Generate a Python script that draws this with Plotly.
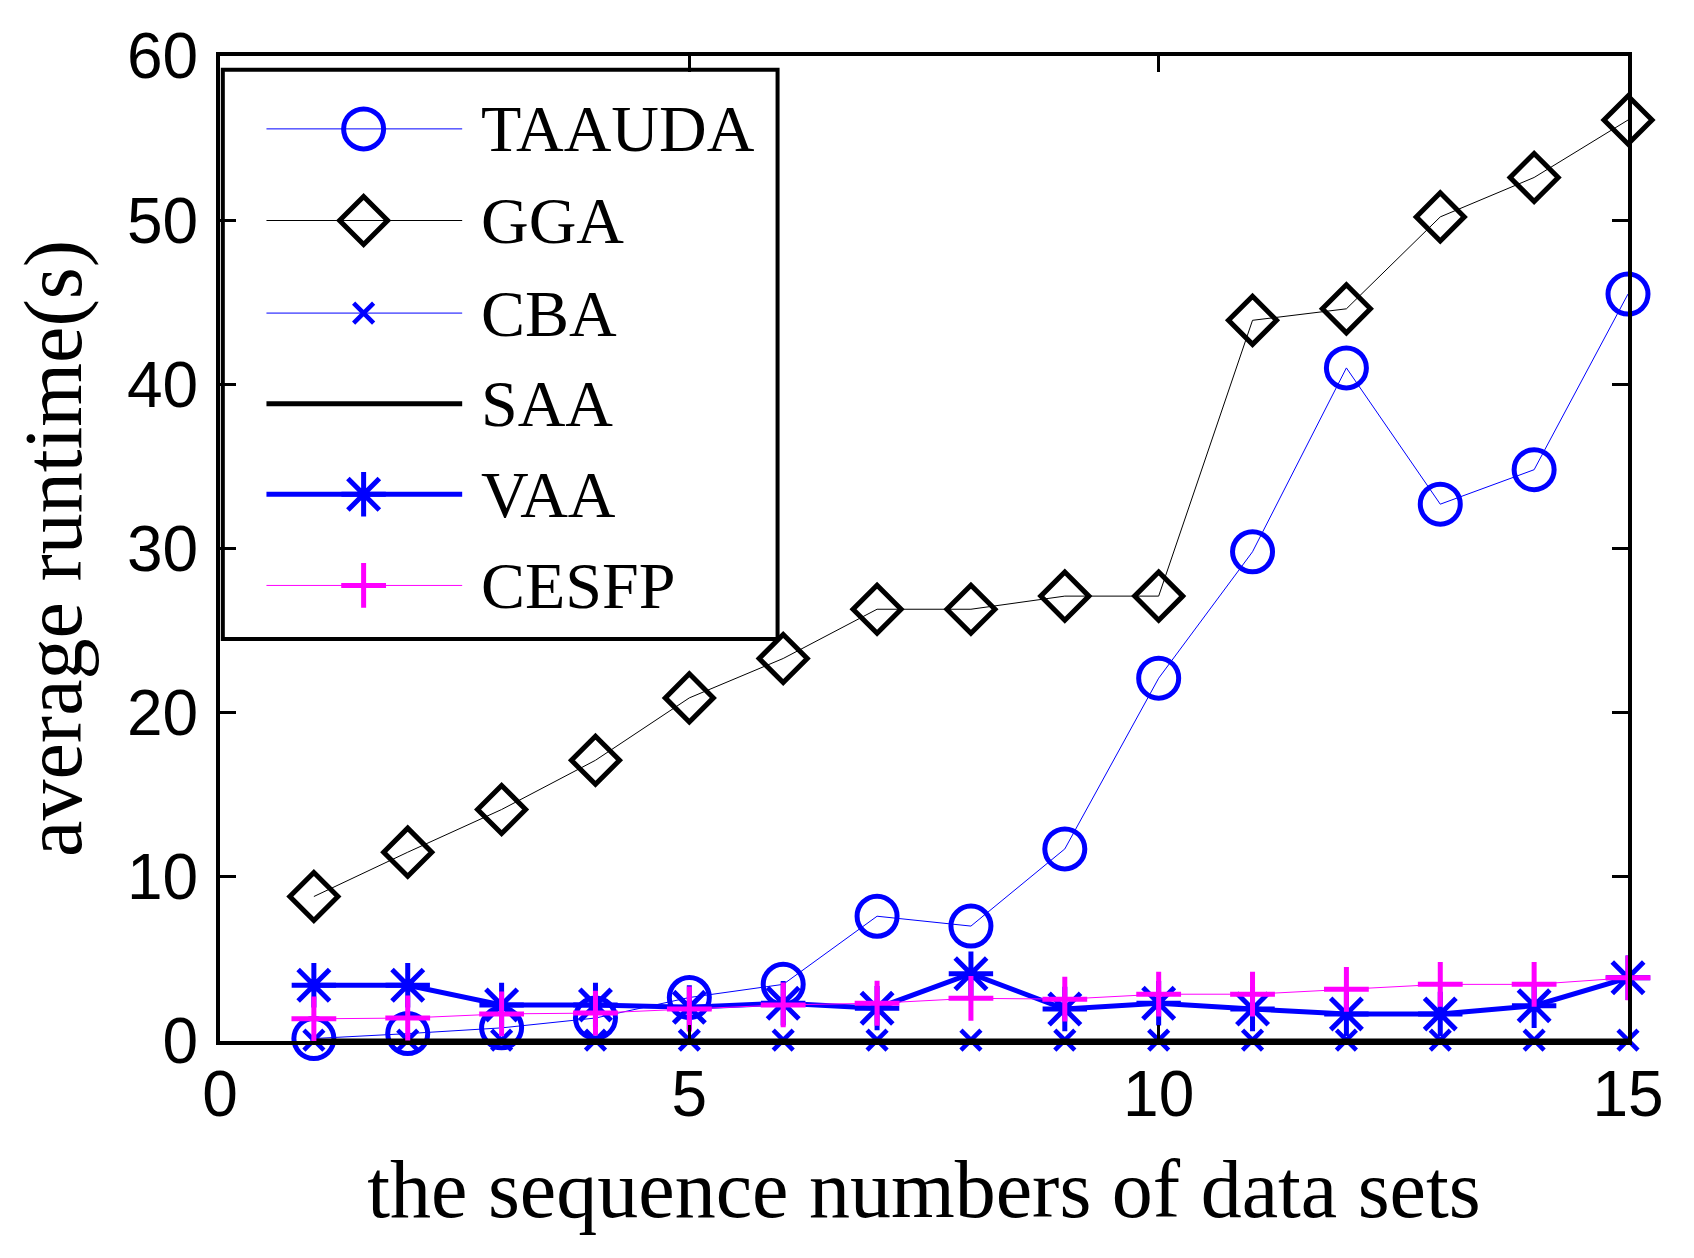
import plotly.graph_objects as go

# data
seq = list(range(1, 16))
taauda = [0.15, 0.45, 0.8, 1.4, 2.65, 3.45, 7.6, 7.0, 11.7, 22.1, 29.8, 41.0, 32.7, 34.8, 45.5]
gga = [8.8, 11.5, 14.1, 17.1, 20.9, 23.3, 26.3, 26.3, 27.1, 27.1, 43.9, 44.6, 50.2, 52.6, 56.1]
cba = [0.05, 0.05, 0.05, 0.05, 0.05, 0.05, 0.05, 0.05, 0.05, 0.05, 0.05, 0.05, 0.05, 0.05, 0.05]
saa = [0.0, 0.0, 0.0, 0.0, 0.0, 0.0, 0.0, 0.0, 0.0, 0.0, 0.0, 0.0, 0.0, 0.0, 0.0]
vaa = [3.4, 3.4, 2.2, 2.2, 2.05, 2.3, 2.0, 4.1, 1.95, 2.3, 1.95, 1.65, 1.65, 2.15, 3.85]
cesfp = [1.35, 1.4, 1.65, 1.7, 1.95, 2.2, 2.3, 2.6, 2.55, 2.85, 2.85, 3.15, 3.45, 3.45, 3.85]

names = ['TAAUDA', 'GGA', 'CBA', 'SAA', 'VAA', 'CESFP']
series = [taauda, gga, cba, saa, vaa, cesfp]

BLUE = '#0000FF'
MAG = '#FF00FF'
styles = {
    'TAAUDA': dict(line=dict(color=BLUE, width=1), marker=dict(symbol='circle-open', size=40, color=BLUE, opacity=1, line=dict(width=5, color=BLUE))),
    'GGA': dict(line=dict(color='black', width=1), marker=dict(symbol='diamond-open', size=37, color='black', opacity=1, line=dict(width=5, color='black'))),
    'CBA': dict(line=dict(color=BLUE, width=1), marker=dict(symbol='x-thin-open', size=20, color=BLUE, opacity=1, line=dict(width=4.5, color=BLUE))),
    'SAA': dict(line=dict(color='black', width=5), marker=None),
    'VAA': dict(line=dict(color=BLUE, width=5), marker=dict(symbol='asterisk-open', size=37, color=BLUE, opacity=1, line=dict(width=5, color=BLUE))),
    'CESFP': dict(line=dict(color=MAG, width=1), marker=dict(symbol='cross-thin-open', size=32, color=MAG, opacity=1, line=dict(width=5, color=MAG))),
}

fig = go.Figure()
for nm, ys in zip(names, series):
    st = styles[nm]
    fig.add_trace(go.Scatter(x=seq, y=ys, name=nm,
                             mode='lines+markers' if st['marker'] else 'lines',
                             line=st['line'], marker=st['marker'], cliponaxis=False,
                             showlegend=False))

# hand made legend box (layout positions in paper units)
leg_rows = [0.926, 0.833, 0.739, 0.647, 0.555, 0.4625]
fig.add_shape(type='rect', xref='paper', yref='paper', x0=0.002, x1=0.396, y0=0.408, y1=0.986,
              line=dict(color='black', width=4), fillcolor='white', layer='below')
for nm, ry in zip(names, leg_rows):
    st = styles[nm]
    # sample line
    fig.add_trace(go.Scatter(x=[0.033, 0.172], y=[ry, ry], xaxis='x2', yaxis='y2', mode='lines',
                             line=st['line'], showlegend=False, hoverinfo='skip'))
    # sample marker
    if st['marker']:
        fig.add_trace(go.Scatter(x=[0.102], y=[ry], xaxis='x2', yaxis='y2', mode='markers',
                                 marker=st['marker'], showlegend=False, hoverinfo='skip'))
    fig.add_annotation(xref='paper', yref='paper', x=0.184, y=ry, text=nm, showarrow=False,
                       xanchor='left', yanchor='middle',
                       font=dict(family='Liberation Serif', size=66, color='black'))

ax_common = dict(showline=True, linewidth=4, linecolor='black', mirror='ticks',
                 ticks='inside', ticklen=16, tickwidth=3, tickcolor='black',
                 showgrid=False, zeroline=False, ticklabeloverflow='allow',
                 tickfont=dict(family='Liberation Sans', size=64, color='black'))

fig.update_layout(
    width=1694, height=1258,
    margin=dict(l=212, r=74, t=37, b=225),
    plot_bgcolor='white', paper_bgcolor='white',
    showlegend=False,
    xaxis=dict(range=[0, 15], tickvals=[0, 5, 10, 15], ticklabelstandoff=-6,
               title=dict(text='the sequence numbers of data sets', standoff=32,
                          font=dict(family='Liberation Serif', size=82, color='black')),
               **ax_common),
    yaxis=dict(range=[0, 60], tickvals=[0, 10, 20, 30, 40, 50, 60], ticklabelstandoff=5,
               title=dict(text='average runtime(s)', standoff=22,
                          font=dict(family='Liberation Serif', size=82, color='black')),
               **ax_common),
    xaxis2=dict(overlaying='x', range=[0, 1], visible=False, domain=[0, 1]),
    yaxis2=dict(overlaying='y', range=[0, 1], visible=False, domain=[0, 1]),
)

fig.write_html("out.html")
